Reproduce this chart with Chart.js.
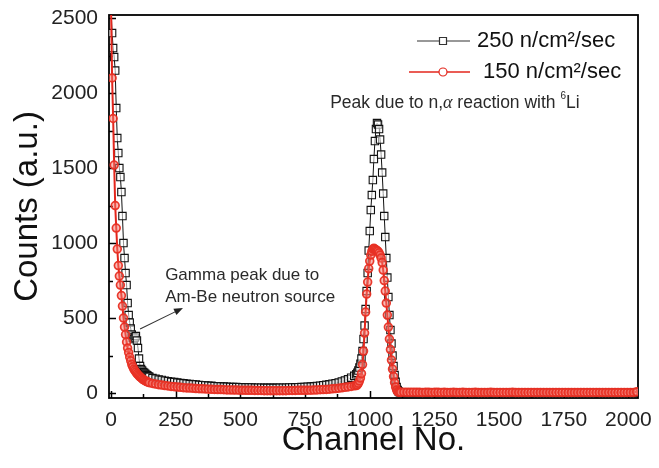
<!DOCTYPE html>
<html><head><meta charset="utf-8">
<script src="https://cdn.jsdelivr.net/npm/chart.js@4.4.1/dist/chart.umd.min.js"></script>
<style>html,body{margin:0;padding:0;background:#fff;}#wrap{width:659px;height:468px;}</style>
</head><body><div id="wrap"><canvas id="c" width="659" height="468"></canvas></div>
<script>
// ---- data ----
const channels = [
 0,4,8,12,16,20,24,28,32,36,40,44,48,52,56,60,64,68,72,76,80,84,88,92,96,100,104,108,112,116,120,124,128,132,136,140,144,148,
 160,172,184,196,208,220,232,244,256,268,280,292,304,316,328,340,352,364,376,388,400,412,424,436,448,460,472,484,496,508,520,532,544,556,568,580,592,604,616,628,640,652,664,676,688,700,712,724,736,748,760,772,784,796,808,820,832,844,856,868,880,892,904,916,928,940,
 948,952,956,960,964,968,972,976,980,984,988,992,996,1000,1004,1008,1012,1016,1020,1024,1028,1032,1036,1040,1044,1048,1052,1056,1060,1064,1068,1072,1076,1080,1084,1088,1092,1096,1100,1104,1108,1112,1116,1120,
 1132,1144,1156,1168,1180,1192,1204,1216,1228,1240,1252,1264,1276,1288,1300,1312,1324,1336,1348,1360,1372,1384,1396,1408,1420,1432,1444,1456,1468,1480,1492,1504,1516,1528,1540,1552,1564,1576,1588,1600,1612,1624,1636,1648,1660,1672,1684,1696,1708,1720,1732,1744,1756,1768,1780,1792,1804,1816,1828,1840,1852,1864,1876,1888,1900,1912,1924,1936,1948,1960,1972,1984,1996,2008,2020,2032
];
const counts250 = [
 2560,2400,2300,2240,2150,1900,1700,1600,1500,1440,1340,1180,1000,900,800,720,600,520,470,430,390,370,360,370,380,350,300,230,180,160,150,140,135,128,122,118,112,108,
 100,96,90,87,82,79,75,73,70,67,65,62,60,58,57,54,52,51,49,48,46,45,44,43,42,41,40,40,39,38,38,37,37,36,36,36,35,35,35,35,35,36,36,36,37,37,38,39,40,41,42,43,45,47,49,52,55,58,62,66,71,77,84,92,102,115,
 125,135,150,170,195,230,280,360,450,560,680,800,950,1080,1220,1320,1420,1560,1680,1760,1800,1790,1760,1690,1590,1470,1330,1180,1040,900,770,640,520,420,330,250,180,120,75,40,20,10,6,5,
 5,4,5,4,4,5,4,4,3,4,4,5,4,3,4,4,4,3,4,4,3,4,4,3,4,3,4,4,3,3,4,3,4,3,3,4,3,3,4,3,3,3,4,3,3,3,4,3,3,3,3,4,3,3,3,3,3,4,3,3,3,3,3,3,4,3,3,3,3,3,3,3,3,3,3,6
];
const counts150 = [
 2560,2100,1830,1520,1250,1100,960,850,780,720,650,580,500,440,390,340,300,270,240,215,190,175,160,150,140,130,122,115,108,102,96,90,86,82,78,75,72,69,
 64,60,56,53,50,47,44,42,40,38,36,34,33,32,30,29,28,27,26,25,24,23,23,22,21,21,20,20,19,19,18,18,18,17,17,17,16,16,16,16,16,16,16,16,17,17,17,18,18,18,19,19,20,21,22,23,24,26,28,30,32,35,38,41,44,48,
 50,55,65,80,100,130,190,280,400,540,660,740,830,880,920,945,960,965,960,955,950,945,935,920,900,870,820,750,680,600,520,440,360,290,220,160,110,70,40,20,10,6,5,5,
 6,5,5,6,5,5,4,5,5,4,5,5,4,5,4,4,5,4,4,5,4,4,4,5,4,4,4,4,5,4,4,4,4,4,4,5,4,4,4,4,4,4,4,4,4,4,4,4,4,4,4,4,4,4,4,4,4,4,4,4,4,4,4,4,4,4,4,4,4,4,4,4,4,4,4,8
];
const seriesLabels = ['250 n/cm\u00B2/sec', '150 n/cm\u00B2/sec'];
const xTickValues = [0, 250, 500, 750, 1000, 1250, 1500, 1750, 2000];
const yTickValues = [0, 500, 1000, 1500, 2000, 2500];
const xTitle = 'Channel No.';
const yTitle = 'Counts (a.u.)';
// annotations anchored in data coordinates
const peakNote = {x: 847, y: 1930};
const gammaNote = {x: 209, y1: 787, y2: 640, lines: ['Gamma peak due to', 'Am-Be neutron source']};
const gammaArrow = {x0: 112, y0: 427, x1: 278, y1: 567};

if (channels.length !== counts250.length || channels.length !== counts150.length) {
  console.error('length mismatch', channels.length, counts250.length, counts150.length);
}

const FONT = "'Liberation Sans', Arial, Helvetica, sans-serif";
const toXY = arr => channels.map((c, i) => ({x: c, y: arr[i]}));

const BLACK = '#111111';
const RED = '#e3261c';

const framePlugin = {
  id: 'frame',
  beforeDatasetsDraw(chart) {
    const {ctx, chartArea: a, scales: {x, y}} = chart;
    const xs = xTickValues[1] - xTickValues[0];
    const ys = yTickValues[1] - yTickValues[0];
    ctx.save();
    ctx.strokeStyle = '#000';
    ctx.lineWidth = 1.5;
    ctx.beginPath();
    x.ticks.forEach(t => {
      const px = Math.round(x.getPixelForValue(t.value)) + 0.5;
      ctx.moveTo(px, a.bottom); ctx.lineTo(px, a.bottom - 7);
      const pm = Math.round(x.getPixelForValue(t.value + xs / 2)) + 0.5;
      if (pm < a.right - 2) { ctx.moveTo(pm, a.bottom); ctx.lineTo(pm, a.bottom - 4); }
    });
    y.ticks.forEach(t => {
      const py = Math.round(y.getPixelForValue(t.value)) + 0.5;
      ctx.moveTo(a.left, py); ctx.lineTo(a.left + 7, py);
      const pm = Math.round(y.getPixelForValue(t.value + ys / 2)) + 0.5;
      if (pm > a.top + 2) { ctx.moveTo(a.left, pm); ctx.lineTo(a.left + 4, pm); }
    });
    ctx.stroke();
    ctx.lineWidth = 1.8;
    ctx.strokeRect(a.left, a.top, a.right - a.left, a.bottom - a.top);
    ctx.restore();
  },
  afterDatasetsDraw(chart) {
    const {ctx, chartArea: a, scales: {x, y}} = chart;
    ctx.save();
    // peak annotation
    ctx.fillStyle = '#2a2a2a';
    ctx.textBaseline = 'middle';
    ctx.textAlign = 'left';
    let px = x.getPixelForValue(peakNote.x);
    const py = y.getPixelForValue(peakNote.y);
    const segs = [
      {t: 'Peak due to n,', f: "17.5px " + FONT, dy: 0},
      {t: '\u03B1', f: "italic 18px 'Liberation Serif', 'DejaVu Serif', serif", dy: 0},
      {t: ' reaction with ', f: "17.5px " + FONT, dy: 0},
      {t: '6', f: "10px " + FONT, dy: -7},
      {t: 'Li', f: "17.5px " + FONT, dy: 0}
    ];
    segs.forEach(s => {
      ctx.font = s.f;
      ctx.fillText(s.t, px, py + s.dy);
      px += ctx.measureText(s.t).width;
    });
    // gamma annotation
    ctx.font = "17px " + FONT;
    const gx = x.getPixelForValue(gammaNote.x);
    ctx.fillText(gammaNote.lines[0], gx, y.getPixelForValue(gammaNote.y1));
    ctx.fillText(gammaNote.lines[1], gx, y.getPixelForValue(gammaNote.y2));
    // arrow
    const ax0 = x.getPixelForValue(gammaArrow.x0), ay0 = y.getPixelForValue(gammaArrow.y0);
    const ax1 = x.getPixelForValue(gammaArrow.x1), ay1 = y.getPixelForValue(gammaArrow.y1);
    const ang = Math.atan2(ay1 - ay0, ax1 - ax0);
    ctx.strokeStyle = '#333'; ctx.lineWidth = 1.1;
    ctx.beginPath(); ctx.moveTo(ax0, ay0);
    ctx.lineTo(ax1 - 6 * Math.cos(ang), ay1 - 6 * Math.sin(ang)); ctx.stroke();
    ctx.fillStyle = '#222';
    ctx.beginPath();
    ctx.moveTo(ax1, ay1);
    ctx.lineTo(ax1 - 9 * Math.cos(ang) + 3.5 * Math.sin(ang), ay1 - 9 * Math.sin(ang) - 3.5 * Math.cos(ang));
    ctx.lineTo(ax1 - 9 * Math.cos(ang) - 3.5 * Math.sin(ang), ay1 - 9 * Math.sin(ang) + 3.5 * Math.cos(ang));
    ctx.closePath(); ctx.fill();
    // legend
    const items = [
      {label: seriesLabels[0], color: '#333', x0: a.right - 221, x1: a.right - 168, y: a.top + 26, tx: a.right - 161, shape: 'rect'},
      {label: seriesLabels[1], color: RED, x0: a.right - 229, x1: a.right - 168, y: a.top + 57, tx: a.right - 155, shape: 'circle'}
    ];
    items.forEach(it => {
      ctx.strokeStyle = it.color; ctx.lineWidth = it.shape === 'rect' ? 1.2 : 1.6;
      ctx.beginPath(); ctx.moveTo(it.x0, it.y); ctx.lineTo(it.x1, it.y); ctx.stroke();
      const mx = a.right - 195;
      ctx.fillStyle = '#fff';
      ctx.lineWidth = 1.2;
      ctx.beginPath();
      if (it.shape === 'rect') ctx.rect(mx - 3.5, it.y - 3.5, 7, 7);
      else ctx.arc(mx, it.y, 4, 0, Math.PI * 2);
      ctx.fill(); ctx.stroke();
      ctx.fillStyle = '#111';
      ctx.font = "22px " + FONT;
      ctx.textBaseline = 'middle';
      ctx.fillText(it.label, it.tx, it.y);
    });
    ctx.restore();
  }
};

new Chart(document.getElementById('c'), {
  type: 'line',
  data: {
    datasets: [
      {
        label: seriesLabels[0], data: toXY(counts250), order: 1,
        borderColor: BLACK, borderWidth: 1, tension: 0,
        pointStyle: 'rect', pointRadius: 5.2, pointBorderWidth: 1.1,
        pointBorderColor: BLACK, pointBackgroundColor: 'rgba(255,255,255,0.55)'
      },
      {
        label: seriesLabels[1], data: toXY(counts150), order: 0,
        borderColor: RED, borderWidth: 2, tension: 0,
        pointStyle: 'circle', pointRadius: 3.9, pointBorderWidth: 1.7,
        pointBorderColor: 'rgba(232,48,36,0.95)', pointBackgroundColor: 'rgba(245,120,110,0.5)'
      }
    ]
  },
  options: {
    responsive: false, animation: false, devicePixelRatio: 1,
    layout: {padding: {top: 15, right: 21, left: 0, bottom: 0}},
    plugins: {legend: {display: false}, tooltip: {enabled: false}},
    events: [],
    scales: {
      x: {
        type: 'linear', min: -8, max: 2037,
        afterFit(s) { s.height = 70; s.paddingLeft = 0; s.paddingRight = 0; },
        afterBuildTicks(s) { s.ticks = xTickValues.map(v => ({value: v})); },
        grid: {display: false, drawTicks: false}, border: {display: false},
        ticks: {padding: 10, maxRotation: 0, minRotation: 0, autoSkip: false,
                font: {family: FONT, size: 21}, color: '#222', callback: v => String(v)},
        title: {display: true, text: xTitle, color: '#111', font: {family: FONT, size: 33}, padding: {top: 0, bottom: 7}}
      },
      y: {
        type: 'linear', min: -33, max: 2520,
        afterFit(s) { s.width = 109; s.paddingTop = 0; s.paddingBottom = 0; },
        afterBuildTicks(s) { s.ticks = yTickValues.map(v => ({value: v})); },
        grid: {display: false, drawTicks: false}, border: {display: false},
        ticks: {padding: 11, autoSkip: false,
                font: {family: FONT, size: 21}, color: '#222', callback: v => String(v)},
        title: {display: true, text: yTitle, color: '#111', font: {family: FONT, size: 33}, padding: {top: 8, bottom: 0}}
      }
    }
  },
  plugins: [framePlugin]
});
</script>
</body></html>
